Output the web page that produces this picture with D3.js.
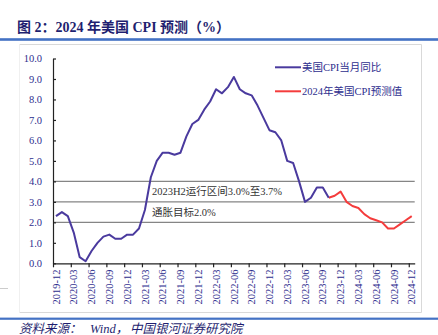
<!DOCTYPE html>
<html>
<head>
<meta charset="utf-8">
<script src="https://cdn.jsdelivr.net/npm/d3@7"></script>
<style>
  body { margin: 0; background: #fff; }
  svg { display: block; }
  text { font-family: "Liberation Serif", "Noto Sans CJK SC", serif; }
</style>
</head>
<body>
<svg id="chart" width="438" height="335"></svg>
<script>
// months 2019-12 .. 2024-12
const months = d3.timeMonth.range(new Date(2019, 11, 1), new Date(2025, 0, 1)).map(d3.timeFormat("%Y-%m"));

// US CPI YoY, 2019-12 .. 2023-10
const actualCPI = [2.3, 2.5, 2.3, 1.5, 0.3, 0.1, 0.6, 1.0, 1.3, 1.4, 1.2, 1.2, 1.4,
  1.4, 1.7, 2.6, 4.2, 5.0, 5.4, 5.4, 5.3, 5.4, 6.2, 6.8, 7.0,
  7.5, 7.9, 8.5, 8.3, 8.6, 9.1, 8.5, 8.3, 8.2, 7.7, 7.1, 6.5,
  6.4, 6.0, 5.0, 4.9, 4.0, 3.0, 3.2, 3.7, 3.7, 3.2];

// forecast, 2023-10 .. 2024-12
const forecastCPI = [3.2, 3.3, 3.5, 3.0, 2.8, 2.7, 2.4, 2.2, 2.1, 2.0, 1.7, 1.7, 1.9, 2.1, 2.3];

const tickLabels = ["2019-12", "2020-03", "2020-06", "2020-09", "2020-12", "2021-03", "2021-06",
  "2021-09", "2021-12", "2022-03", "2022-06", "2022-09", "2022-12", "2023-03", "2023-06",
  "2023-09", "2023-12", "2024-03", "2024-06", "2024-09", "2024-12"];

const yTicks = [0, 1, 2, 3, 4, 5, 6, 7, 8, 9, 10];
const refLines = [4, 3, 2];
const legendItems = ["美国CPI当月同比", "2024年美国CPI预测值"];

const navy = "#2e2e8e";
const lineBlue = "#4a3a9e";
const lineRed = "#f43c3c";

const svg = d3.select("#chart");

// title + rules
svg.append("text").attr("x", 17).attr("y", 31.5)
  .attr("font-size", 14).attr("font-weight", "bold").attr("fill", "#1f1f70")
  .text("图 2：2024 年美国 CPI 预测（%）");
svg.append("rect").attr("x", 0).attr("y", 38.2).attr("width", 438).attr("height", 2.6).attr("fill", "#4472c4");
svg.append("rect").attr("x", 0).attr("y", 317.6).attr("width", 438).attr("height", 2.2).attr("fill", "#4472c4");

// chart frame
const frame = svg.append("g").attr("fill", "none").attr("stroke", "#d9d9d9").attr("stroke-width", 1);
frame.append("path").attr("d", "M19.5,44.5H421.5V312.5H19.5");
frame.append("path").attr("d", "M19.5,44.5V312.5").attr("stroke", "#f0f0f0");
svg.append("line").attr("x1", 0).attr("x2", 8).attr("y1", 288.5).attr("y2", 288.5).attr("stroke", "#ccc");

const x = d3.scalePoint().domain(months).range([53, 414.7]).padding(0.5);
const xi = d3.scaleLinear().domain([0, months.length]).range([53, 414.7]);
const y = d3.scaleLinear().domain([0, 10]).range([263.3, 58.5]);

// reference lines
svg.append("g").selectAll("line").data(refLines).join("line")
  .attr("x1", 53).attr("x2", 414.7)
  .attr("y1", d => y(d)).attr("y2", d => y(d))
  .attr("stroke", "#858585").attr("stroke-width", 1.2);

svg.append("text").attr("x", 152).attr("y", (y(4) + y(3)) / 2).attr("dy", "0.35em")
  .attr("font-size", 10.5).attr("fill", "#333").text("2023H2运行区间3.0%至3.7%");
svg.append("text").attr("x", 152).attr("y", (y(3) + y(2)) / 2).attr("dy", "0.35em")
  .attr("font-size", 10.5).attr("fill", "#333").text("通胀目标2.0%");

// y axis
const yAxis = svg.append("g").attr("transform", "translate(53,0)")
  .call(d3.axisLeft(y).tickValues(yTicks).tickSize(-3).tickSizeOuter(0).tickPadding(11).tickFormat(d3.format(".1f")));
yAxis.selectAll("text").attr("font-size", 10.5).attr("fill", navy).attr("font-family", null);
yAxis.selectAll("line, path").attr("stroke", "#222").attr("stroke-width", 1.2);

// x axis
const xAxis = svg.append("g").attr("transform", `translate(0,${y(0)})`)
  .call(d3.axisBottom(xi).tickValues(d3.range(0, months.length + 1, 3)).tickSize(4).tickSizeOuter(0).tickFormat(""));
xAxis.selectAll("line, path").attr("stroke", "#222").attr("stroke-width", 1.2);

svg.append("g").selectAll("text").data(tickLabels).join("text")
  .attr("transform", d => `translate(${x(d)},269.5) rotate(-90)`)
  .attr("text-anchor", "end").attr("dy", "0.35em")
  .attr("font-size", 10.5).attr("fill", navy).text(d => d);

// lines
const line = d3.line().x(d => x(d[0])).y(d => y(d[1]));
const actualPts = actualCPI.map((v, i) => [months[i], v]);
const forecastPts = forecastCPI.map((v, i) => [months[i + actualCPI.length - 1], v]);

svg.append("path").datum(forecastPts).attr("d", line)
  .attr("fill", "none").attr("stroke", lineRed).attr("stroke-width", 2).attr("stroke-linejoin", "round");
svg.append("path").datum(actualPts).attr("d", line)
  .attr("fill", "none").attr("stroke", lineBlue).attr("stroke-width", 2).attr("stroke-linejoin", "round");

// legend
const legend = svg.append("g").selectAll("g").data(legendItems).join("g")
  .attr("transform", (d, i) => `translate(275,${67.3 + i * 24})`);
legend.append("line").attr("x1", 0).attr("x2", 26)
  .attr("stroke", (d, i) => i === 0 ? lineBlue : lineRed).attr("stroke-width", 2);
legend.append("text").attr("x", 27).attr("dy", "0.35em")
  .attr("font-size", 10.5).attr("fill", navy).text(d => d);

// source
const src = svg.append("g").attr("font-size", 12.5).attr("font-style", "italic").attr("fill", "#1f1f70");
src.append("text").attr("x", 19).attr("y", 332.5).text("资料来源：");
src.append("text").attr("x", 90).attr("y", 332.5).text("Wind，");
src.append("text").attr("x", 130).attr("y", 332.5).text("中国银河证券研究院");
</script>
</body>
</html>
